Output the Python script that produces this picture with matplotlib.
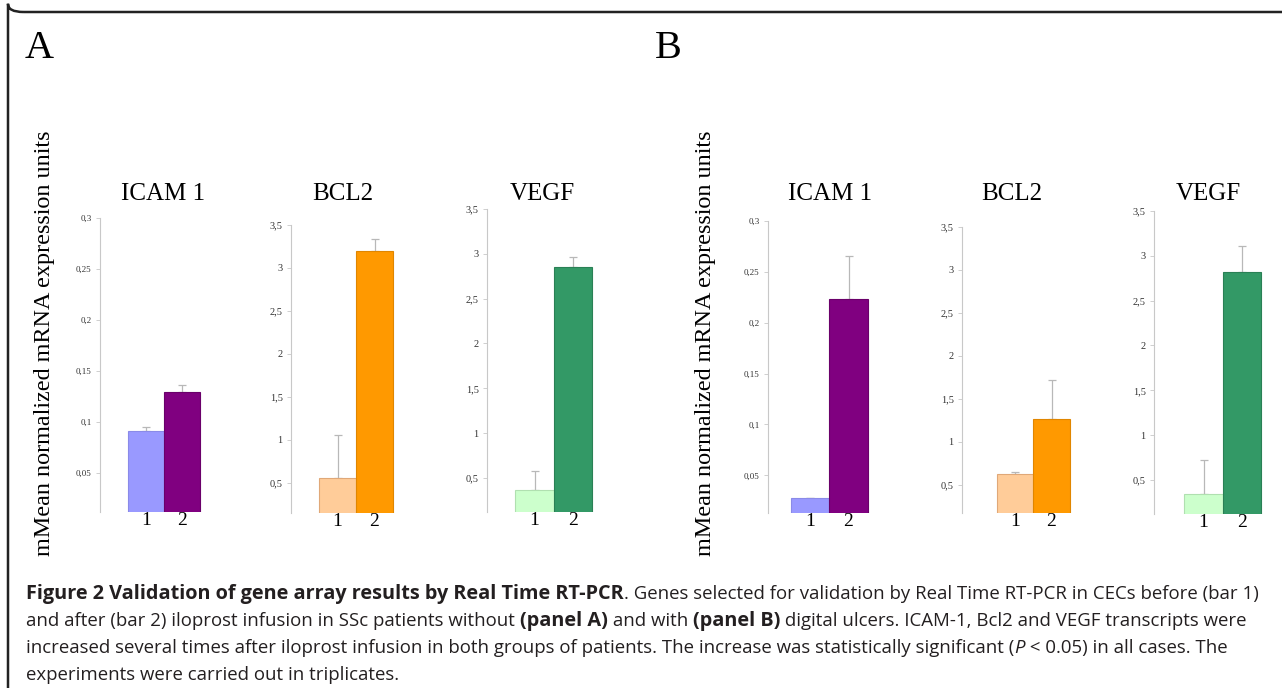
import matplotlib
matplotlib.use('Agg')
import matplotlib.pyplot as plt
from matplotlib.patches import FancyBboxPatch

W, H = 1282, 688

# data (bar 1 = before, bar 2 = after iloprost)
genes = ['ICAM 1', 'BCL2', 'VEGF']
panelA_means = [[0.091, 0.130], [0.56, 3.20], [0.366, 2.855]]
panelA_errtop = [[0.095, 0.136], [1.06, 3.34], [0.58, 2.96]]
panelB_means = [[0.0274, 0.2236], [0.62, 1.27], [0.344, 2.82]]
panelB_errtop = [[0.028, 0.266], [0.65, 1.72], [0.72, 3.11]]

icam_ticks = [0.05, 0.1, 0.15, 0.2, 0.25, 0.3]
icam_labels = ['0,05', '0,1', '0,15', '0,2', '0,25', '0,3']
big_ticks = [0.5, 1, 1.5, 2, 2.5, 3, 3.5]
big_labels = ['0,5', '1', '1,5', '2', '2,5', '3', '3,5']

bar_colors = [('#9999ff', '#800080'), ('#ffcc99', '#ff9900'), ('#ccffcc', '#339966')]
edge_colors = [('#8a8ae8', '#6a006a'), ('#e0a878', '#e08600'), ('#b0e0b0', '#2a8055')]

# layout in pixels: spine x, bar width, bar1 center, top px, bottom px, ymin, ymax, title x
layout = {
    'A': [(100, 36, 146, 218, 512, 0.012, 0.3, 163),
          (291, 37, 337.5, 225, 513, 0.15, 3.5, 343),
          (487, 38.5, 534.5, 209, 512, 0.12, 3.5, 542)],
    'B': [(768, 38.5, 810, 221, 513, 0.013, 0.3, 830),
          (962, 36.5, 1015, 227, 513, 0.17, 3.5, 1012),
          (1154, 38.5, 1203.5, 211, 514, 0.12, 3.5, 1208)],
}

serif = 'Liberation Serif'
fig = plt.figure(figsize=(W / 100, H / 100), dpi=100)

# rounded frame around the figure
frame = FancyBboxPatch((8 / W, 1 - 12 / H), 1.2, -1.2,
                       boxstyle='round,pad=0,rounding_size=0.012',
                       transform=fig.transFigure, fill=False,
                       edgecolor='#222222', linewidth=1.8)
fig.patches.append(frame)


def draw_panel(key, means, errtop, letter_x, ylabel_x):
    fig.text(letter_x / W, 1 - 48 / H, key, family=serif, fontsize=29,
             ha='left', va='center')
    fig.text(ylabel_x / W, 1 - 343 / H, 'mMean normalized mRNA expression units',
             family=serif, fontsize=17.4, rotation=90, ha='center', va='center')
    for i, (s, bw, c1, top, bot, ymin, ymax, tx) in enumerate(layout[key]):
        ncols = 3.0
        ax = fig.add_axes([s / W, 1 - bot / H, bw * ncols / W, (bot - top) / H])
        xl = 1 - (c1 - s) / bw
        vals = means[i]
        errs = [e - m for e, m in zip(errtop[i], vals)]
        ax.bar([1, 2], vals, width=1.0, color=bar_colors[i],
               edgecolor=edge_colors[i], linewidth=0.8, zorder=2)
        ax.errorbar([1, 2], vals, yerr=[[0, 0], errs], fmt='none',
                    ecolor='#b8b8b8', elinewidth=0.9, capsize=3, capthick=0.9, zorder=1)
        ax.set_xlim(xl, xl + ncols)
        ax.set_ylim(ymin, ymax)
        if i == 0:
            ax.set_yticks(icam_ticks, icam_labels)
        else:
            ax.set_yticks(big_ticks, big_labels)
        ax.set_xticks([1, 2], ['1', '2'])
        for sp in ['top', 'right', 'bottom']:
            ax.spines[sp].set_visible(False)
        ax.spines['left'].set_color('#c8c8c8')
        ax.spines['left'].set_linewidth(0.8)
        ax.tick_params(axis='y', length=3, width=0.6, color='#c8c8c8', pad=3,
                       labelsize=6.5 if i == 0 else 7.5, labelcolor='#333333')
        ax.tick_params(axis='x', length=0, pad=0, labelsize=14)
        for lab in ax.get_yticklabels() + ax.get_xticklabels():
            lab.set_family(serif)
        ax.patch.set_alpha(0)
        fig.text(tx / W, 1 - 194 / H, genes[i], family=serif, fontsize=18,
                 ha='center', va='center')


draw_panel('A', panelA_means, panelA_errtop, 25, 45)
draw_panel('B', panelB_means, panelB_errtop, 655, 705)

# caption with mixed styles
cap_font = 'Open Sans'
reg = dict(family=cap_font, fontsize=13.4, color='#231f20')
bold = dict(reg, weight='bold', fontsize=14.3)
ital = dict(reg, style='italic')
caption = [
    [('Figure 2 Validation of gene array results by Real Time RT-PCR', bold),
     ('. Genes selected for validation by Real Time RT-PCR in CECs before (bar 1)', reg)],
    [('and after (bar 2) iloprost infusion in SSc patients without ', reg),
     ('(panel A)', bold), (' and with ', reg), ('(panel B)', bold),
     (' digital ulcers. ICAM-1, Bcl2 and VEGF transcripts were', reg)],
    [('increased several times after iloprost infusion in both groups of patients. '
      'The increase was statistically significant (', reg), ('P', ital),
     (' < 0.05) in all cases. The', reg)],
    [('experiments were carried out in triplicates.', reg)],
]
line_y = [594, 621, 648, 675]

fig.canvas.draw()
renderer = fig.canvas.get_renderer()
for runs, ly in zip(caption, line_y):
    x = 26
    for txt, kw in runs:
        t = fig.text(x / W, 1 - ly / H, txt, ha='left', va='center', **kw)
        x += t.get_window_extent(renderer).width

fig.savefig('out.png', dpi=100)
